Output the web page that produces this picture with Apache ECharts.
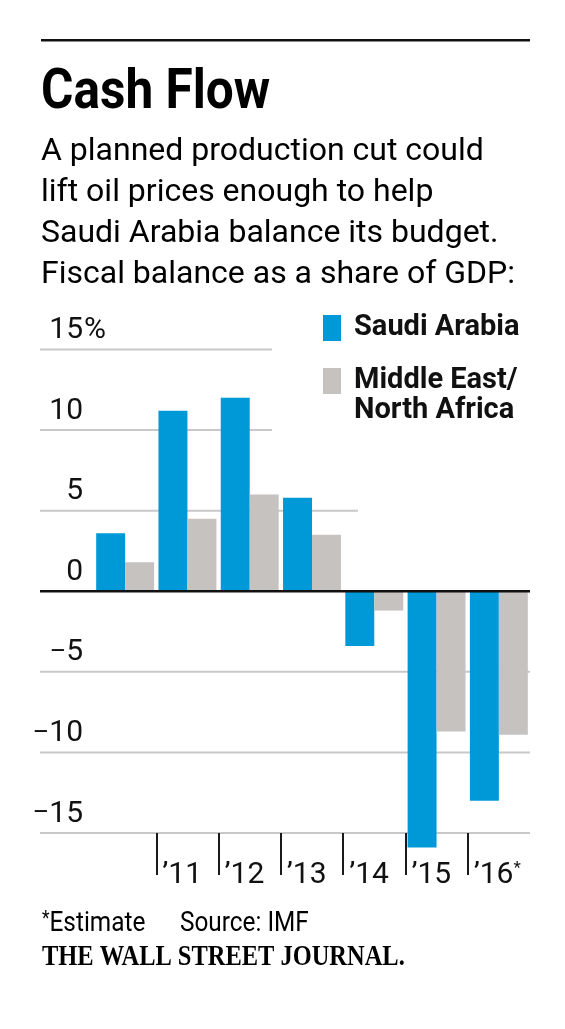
<!DOCTYPE html>
<html><head><meta charset="utf-8">
<script src="https://cdn.jsdelivr.net/npm/echarts@6/dist/echarts.min.js"></script>
<style>html,body{margin:0;padding:0;background:#fff}#c{width:565px;height:1029px}</style>
</head><body><div id="c"></div>
<script>
// ---- data ----
const categories = ['2010', '2011', '2012', '2013', '2014', '2015', '2016'];
const saudiArabia = [3.6, 11.2, 12.0, 5.8, -3.4, -15.9, -13.0];
const middleEastNorthAfrica = [1.8, 4.5, 6.0, 3.5, -1.2, -8.7, -8.9];
const seriesNames = ['Saudi Arabia', 'Middle East/North Africa'];
const yTicks = [-15, -10, -5, 0, 5, 10, 15];
const yTickLabels = ['–15', '–10', '–5', '0', '5', '10', '15'];
const xTickPositions = [1, 2, 3, 4, 5, 6];
const xTickLabels = ['’11', '’12', '’13', '’14', '’15', '’16*'];
const gridValues = [15, 10, 5, -5, -10, -15];

// ---- styles ----
const BLUE = '#0099d8';
const GRAY = '#c5c2c0';
const INK = '#111111';
const FONT = 'Roboto, "Noto Sans", sans-serif';
const gridRightEnd = { '15': 272, '10': 272, '5': 358 };

const chart = echarts.init(document.getElementById('c'), null, { renderer: 'canvas' });

const legendText = {
  fontFamily: FONT, fontWeight: 'bold', fontSize: 29, color: INK, lineHeight: 30,
  padding: [0, 0, 0, 8]
};

const option = {
  animation: false,
  backgroundColor: '#ffffff',
  textStyle: { fontFamily: FONT },
  grid: { left: 94, right: 35, top: 349.5, bottom: 196, containLabel: false, outerBoundsMode: 'none' },
  xAxis: [
    {
      type: 'category', data: categories, position: 'bottom',
      axisLine: { show: false, onZero: false }, axisTick: { show: false },
      axisLabel: { show: false }, splitLine: { show: false }
    },
    {
      type: 'value', min: 0, max: categories.length, position: 'bottom',
      axisLine: { show: false, onZero: false }, splitLine: { show: false },
      axisTick: { show: true, customValues: xTickPositions, length: 42,
        lineStyle: { color: '#1a1a1a', width: 2 } },
      axisLabel: {
        show: true, customValues: xTickPositions,
        formatter: function (v) {
          const i = xTickPositions.indexOf(v);
          return i < 0 ? '' : xTickLabels[i].replace('*', '{s|*}');
        },
        align: 'left', verticalAlign: 'top', margin: 27, padding: [0, 0, 0, 6],
        fontFamily: FONT, fontSize: 30, color: INK,
        rich: { s: { fontFamily: FONT, fontSize: 17, color: INK, verticalAlign: 'top' } }
      }
    }
  ],
  yAxis: {
    type: 'value', min: -15, max: 15, interval: 5,
    axisLine: { show: false, onZero: false }, axisTick: { show: false }, splitLine: { show: false },
    axisLabel: {
      formatter: function (v) {
        const i = yTicks.indexOf(v);
        return i < 0 ? '' : yTickLabels[i].replace('–', '{d|–}');
      },
      fontFamily: FONT, fontSize: 30, color: INK, margin: 11,
      verticalAlign: 'bottom', padding: [0, 0, 4, 0],
      rich: { d: { fontFamily: FONT, fontSize: 25, color: INK } }
    }
  },
  legend: [
    {
      data: [seriesNames[0]], orient: 'vertical', left: 323, top: 313, padding: 0,
      itemWidth: 18, itemHeight: 26, icon: 'rect', selectedMode: false,
      textStyle: legendText
    },
    {
      data: [seriesNames[1]], orient: 'vertical', left: 323, top: 336, padding: 0,
      itemWidth: 18, itemHeight: 26, icon: 'rect', selectedMode: false,
      formatter: function (n) { return '\n' + n.replace('/', '/\n'); },
      textStyle: legendText
    }
  ],
  series: [
    {
      name: seriesNames[0], type: 'bar', data: saudiArabia, xAxisIndex: 0, yAxisIndex: 0,
      itemStyle: { color: BLUE }, barGap: '0%', barCategoryGap: '7%', clip: false, z: 2,
      emphasis: { disabled: true }
    },
    {
      name: seriesNames[1], type: 'bar', data: middleEastNorthAfrica, xAxisIndex: 0, yAxisIndex: 0,
      itemStyle: { color: GRAY }, barGap: '0%', barCategoryGap: '7%', clip: false, z: 2,
      emphasis: { disabled: true }
    }
  ]
};
chart.setOption(option);

// ---- decorations positioned through the y scale ----
const yPix = function (v) { return chart.convertToPixel({ yAxisIndex: 0 }, v); };
const graphics = [];
gridValues.forEach(function (v) {
  const y = yPix(v);
  const x2 = gridRightEnd[String(v)] || 530;
  graphics.push({ type: 'line', z: 0, shape: { x1: 40, y1: y, x2: x2, y2: y },
    style: { stroke: '#c8c8c8', lineWidth: 2 } });
});
const y0 = yPix(0);
graphics.push({ type: 'line', z: 50, shape: { x1: 40, y1: y0, x2: 530, y2: y0 },
  style: { stroke: '#111', lineWidth: 2.5 } });
graphics.push({ type: 'text', z: 50, x: 84, y: yPix(15) - 4,
  style: { text: '%', fontFamily: FONT, fontSize: 30, fill: INK, align: 'left', verticalAlign: 'bottom' } });

// header / footer
graphics.push({ type: 'rect', z: 50, shape: { x: 41, y: 39, width: 489, height: 2.5 }, style: { fill: '#111' } });
graphics.push({ type: 'text', z: 50, x: 41, y: 94, scaleX: 0.885,
  style: { text: 'Cash Flow', fontFamily: FONT, fontWeight: 'bold', fontSize: 56, fill: '#000', align: 'left', verticalAlign: 'middle' } });
graphics.push({ type: 'text', z: 50, x: 41, y: 213.5,
  style: { text: 'A planned production cut could\nlift oil prices enough to help\nSaudi Arabia balance its budget.\nFiscal balance as a share of GDP:',
    fontFamily: FONT, fontSize: 32, lineHeight: 40.7, fill: '#000', align: 'left', verticalAlign: 'middle' } });
graphics.push({ type: 'text', z: 50, x: 42, y: 924, scaleX: 0.87,
  style: { text: '{s|*}Estimate', fontFamily: FONT, fontSize: 28, fill: '#000', align: 'left', verticalAlign: 'middle',
    rich: { s: { fontFamily: FONT, fontSize: 20, fill: '#000', verticalAlign: 'top' } } } });
graphics.push({ type: 'text', z: 50, x: 180, y: 924, scaleX: 0.87,
  style: { text: 'Source: IMF', fontFamily: FONT, fontSize: 28, fill: '#000', align: 'left', verticalAlign: 'middle' } });
graphics.push({ type: 'text', z: 50, x: 42, y: 957, scaleX: 0.815,
  style: { text: 'THE WALL STREET JOURNAL.', fontFamily: '"Liberation Serif", "DejaVu Serif", serif', fontWeight: 'bold', fontSize: 30, fill: '#000', align: 'left', verticalAlign: 'middle' } });

chart.setOption({ graphic: { elements: graphics } });
</script>
</body></html>
